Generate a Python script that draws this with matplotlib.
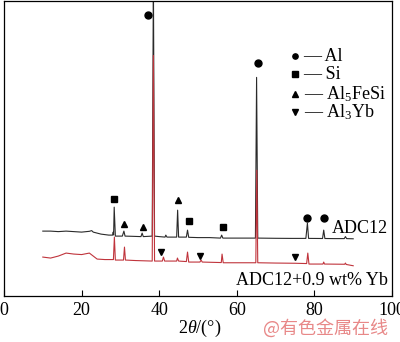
import matplotlib
matplotlib.use("Agg")
import matplotlib.pyplot as plt

# ---- data (2theta in degrees, intensity in a.u.) ----
adc12_2theta = [10, 12, 14, 16, 18, 20, 22, 22.6, 23, 25, 27, 28.0, 28.15, 28.25, 28.4, 28.7,
                30.5, 30.9, 31.2, 33, 35.3, 35.6, 35.9, 38.2, 38.5, 38.8, 40, 41.5, 41.7, 42.0,
                44.5, 44.75, 45.0, 47.0, 47.3, 47.6, 50, 53, 55.8, 56.1, 56.4, 60, 64.8, 65.1,
                65.4, 70, 74, 77.8, 78.2, 78.5, 82.1, 82.4, 82.7, 85, 87.7, 88.0, 88.3, 90]
adc12_int = [650, 650, 645, 650, 645, 640, 648, 655, 640, 620, 610, 610, 640, 612, 890, 600,
             600, 650, 600, 598, 595, 630, 595, 600, 3200, 600, 595, 590, 610, 590,
             590, 860, 590, 590, 660, 588, 585, 585, 580, 610, 580, 580, 580, 2190,
             580, 578, 577, 577, 730, 577, 576, 660, 576, 575, 575, 595, 575, 573]

yb_2theta = [10, 12, 14, 16, 18, 20, 22, 23, 24, 26, 28.2, 28.45, 28.7, 30.8, 31.05, 31.3,
             34, 38.2, 38.5, 38.8, 40.8, 41.1, 41.4, 42.5, 44.5, 44.7, 45.0, 47.0, 47.3,
             47.6, 50.5, 50.8, 51.1, 53, 56.0, 56.2, 56.5, 60, 64.9, 65.15, 65.4, 70, 75,
             78.0, 78.3, 78.6, 82.2, 82.4, 82.6, 87.8, 88.0, 88.2, 90]
yb_int = [390, 380, 400, 430, 420, 415, 430, 400, 370, 365, 365, 590, 360, 360, 490, 360,
          355, 350, 2410, 350, 350, 390, 350, 350, 350, 380, 350, 345, 440,
          340, 340, 360, 340, 338, 335, 420, 333, 333, 333, 1260, 333, 330, 328,
          325, 430, 320, 320, 340, 320, 318, 330, 316, 303]

# phase marker annotations (2theta, intensity)
al_pos = [(37.0, 2810), (65.5, 2330), (78.0, 780), (82.5, 780)]
si_pos = [(28.3, 970), (47.8, 750), (56.4, 690)]
fesi_pos = [(30.9, 720), (35.7, 690), (44.8, 960)]
yb_pos = [(40.5, 440), (50.5, 400), (75.0, 390)]

legend_labels = ["Al", "Si", r"Al$_5$FeSi", r"Al$_3$Yb"]
legend_markers = ["o", "s", "^", "v"]
series_labels = ["ADC12", "ADC12+0.9 wt% Yb"]
xticks = [0, 20, 40, 60, 80, 100]

plt.rcParams['font.family'] = ['Liberation Serif', 'DejaVu Serif']
plt.rcParams['mathtext.fontset'] = 'custom'
plt.rcParams['mathtext.rm'] = 'Liberation Serif'
plt.rcParams['mathtext.it'] = 'Liberation Serif:italic'

fig = plt.figure(figsize=(4.0, 3.42), dpi=100)
ax = fig.add_axes([0.01, 0.1345, 0.97, 0.864])

ax.plot(adc12_2theta, adc12_int, color='#2a2a2a', lw=0.8)
ax.plot(yb_2theta, yb_int, color='#c0343c', lw=0.8)

for pos, m in [(al_pos, 'o'), (si_pos, 's'), (fesi_pos, '^'), (yb_pos, 'v')]:
    ax.plot([p[0] for p in pos], [p[1] for p in pos], linestyle='none', marker=m,
            color='black', markersize=5)

ax.set_xlim(0, 100)
ax.set_ylim(0, 2960)
ax.set_xticks(xticks)
ax.tick_params(axis='x', direction='in', length=4, labelsize=13, pad=4, width=0.8)
ax.set_yticks([])
for s in ax.spines.values():
    s.set_linewidth(0.9)

# legend as text
leg_y = [2400, 2220, 2020, 1840]
for lab, mk, yy in zip(legend_labels, legend_markers, leg_y):
    ax.plot([75.0], [yy], marker=mk, color='black', markersize=3.8, linestyle='none')
    ax.text(77.2, yy, "\u2014 " + lab, fontsize=13, va='center', ha='left')

ax.text(99, 680, series_labels[0], fontsize=13, ha='right', va='center')
ax.text(99, 160, series_labels[1], fontsize=13, ha='right', va='center')

fig.text(0.5, 0.04, r"$\it{2\theta}$/(°)", fontsize=13, ha='center', va='center')
fig.text(0.815, 0.04, "@有色金属在线", fontsize=13, ha='center', va='center',
         color='#e88888', family=['Noto Sans CJK SC', 'DejaVu Sans'])

fig.savefig("out.png", dpi=100)
